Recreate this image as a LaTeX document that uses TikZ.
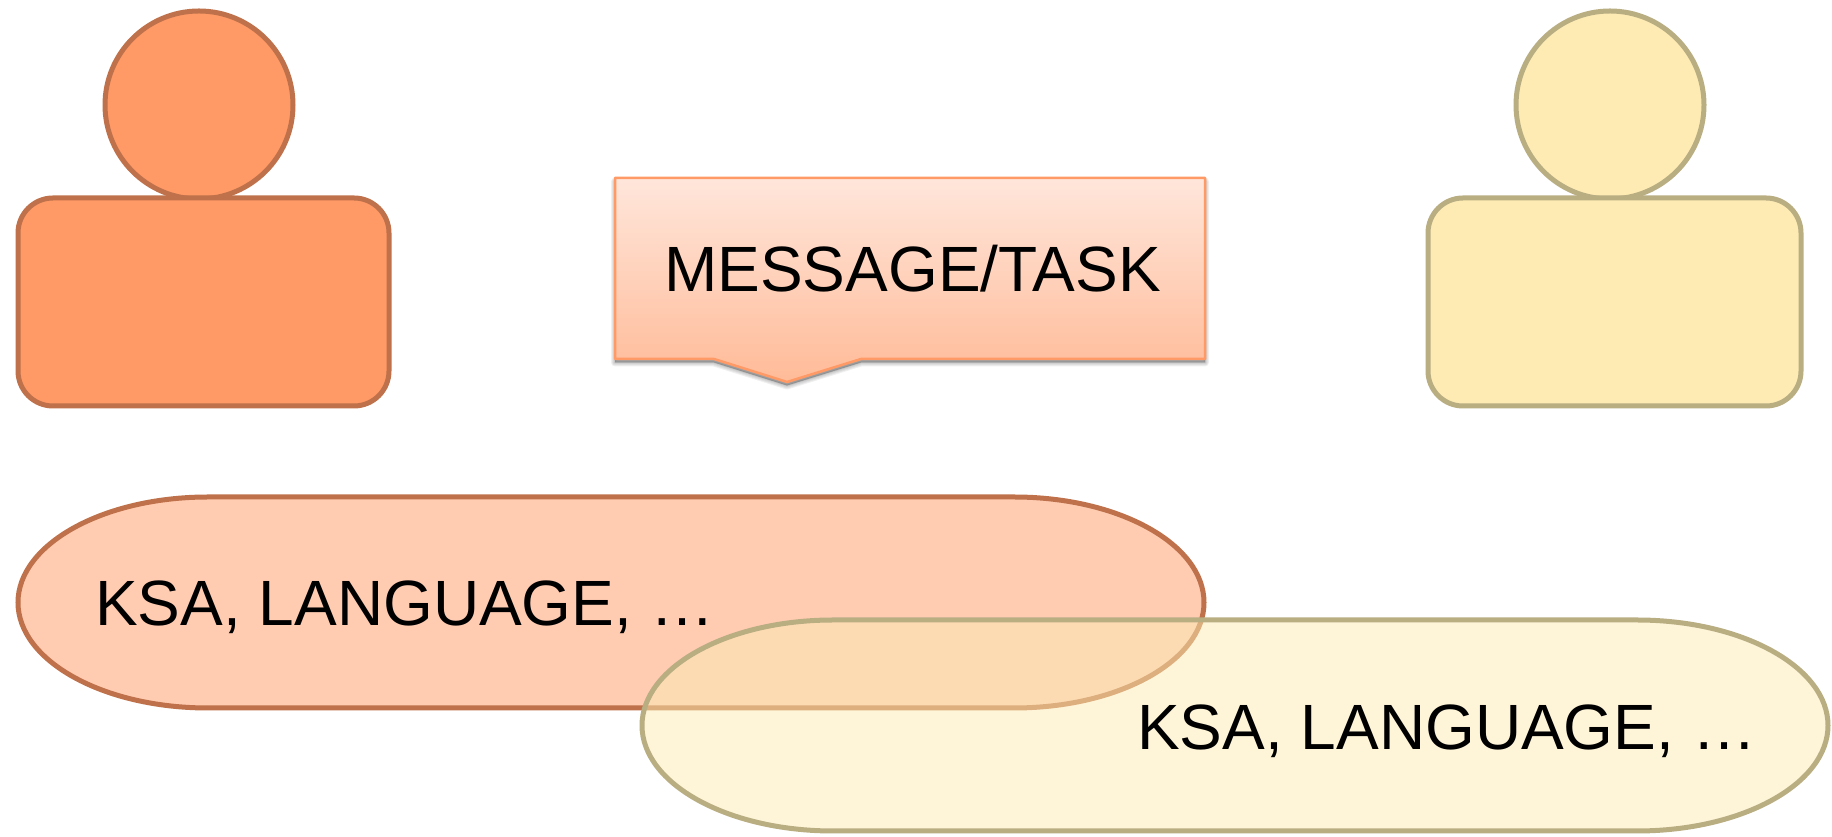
\documentclass[tikz,border=0pt]{standalone}
\usepackage{fontspec}
\setmainfont{Liberation Sans}
\definecolor{orfill}{HTML}{FF9966}
\definecolor{orline}{HTML}{BE714A}
\definecolor{yefill}{HTML}{FDEBB3}
\definecolor{yeline}{HTML}{B9AD82}
\definecolor{coline}{HTML}{FF9966}
\definecolor{cotop}{HTML}{FFE6DB}
\definecolor{cobot}{HTML}{FFBB98}
\newcommand{\rrp}[6]{(#1+#5,837-#2) -- (#3-#5,837-#2) arc[start angle=90,end angle=0,x radius=#5pt,y radius=#6pt] -- (#3,837-#4+#6) arc[start angle=0,end angle=-90,x radius=#5pt,y radius=#6pt] -- (#1+#5,837-#4) arc[start angle=-90,end angle=-180,x radius=#5pt,y radius=#6pt] -- (#1,837-#2-#6) arc[start angle=180,end angle=90,x radius=#5pt,y radius=#6pt] -- cycle}
\newcommand{\calloutp}{(615,837-178) -- (1205,837-178) -- (1205,837-359) -- (861,837-359) -- (787,837-382) -- (714,837-359) -- (615,837-359) -- cycle}
\tikzset{
  orshape/.style={draw=orline,line width=5pt,fill=orfill},
  yeshape/.style={draw=yeline,line width=5pt,fill=yefill},
  orband/.style={draw=orline,line width=5pt,fill=orfill,fill opacity=.5},
  yeband/.style={draw=yeline,line width=5pt,fill=yefill,fill opacity=.5},
  label/.style={inner sep=0pt,anchor=base west,font=\fontsize{64}{77}\selectfont,text=black}
}
\begin{document}
\begin{tikzpicture}[x=1pt,y=1pt]
\useasboundingbox (0,0) rectangle (1832,837);
% left person
\draw[orshape] (199,837-105) circle[radius=94pt];
\draw[orshape] \rrp{18}{198}{389}{406}{35}{35};
% right person
\draw[yeshape] (1610,837-105) circle[radius=94pt];
\draw[yeshape] \rrp{1428}{198}{1801}{406}{35}{35};
% callout shadow
\begin{scope}[yshift=-3.5pt]
\foreach \w in {8,6,4,2,0.5}{
  \fill[black,fill opacity=.06,draw=black,draw opacity=.06,line width=\w pt,line join=round] \calloutp;
}
\end{scope}
% callout
\shade[top color=cotop,bottom color=cobot,shading angle=0] \calloutp;
\draw[coline,line width=2.5pt,line join=round] \calloutp;
\node[label] (msg) at (664,837-292) {MESSAGE/TASK};
% bands
\path[orband] \rrp{18}{497}{1204}{708}{190}{105.5};
\path[yeband] \rrp{642}{620}{1828}{831}{191}{105.5};
\node[label] (ksaone) at (95,837-626) {KSA, LANGUAGE, …};
\node[label] (ksatwo) at (1137,837-750) {KSA, LANGUAGE, …};
\end{tikzpicture}
\end{document}
